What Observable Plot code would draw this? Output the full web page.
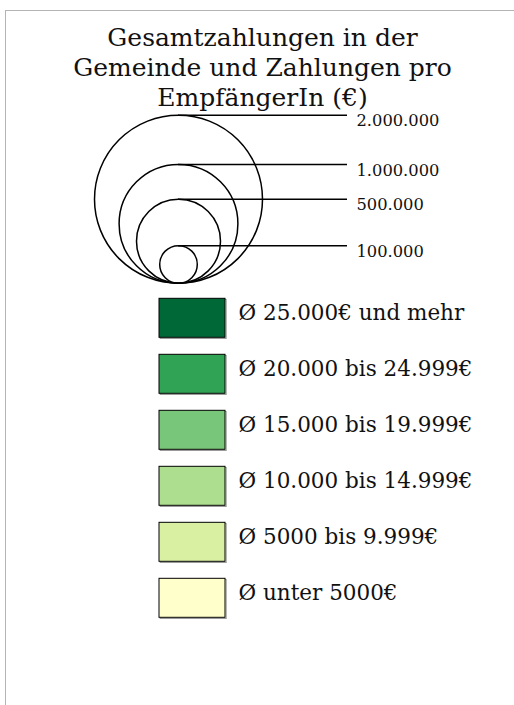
<!DOCTYPE html>
<html>
<head>
<meta charset="utf-8">
<script src="https://cdn.jsdelivr.net/npm/d3@7"></script>
<script src="https://cdn.jsdelivr.net/npm/@observablehq/plot@0.6"></script>
<style>
  html, body { margin: 0; padding: 0; background: #fff; }
  #chart { position: relative; width: 514px; height: 705px; overflow: hidden; }
  #frame { position: absolute; left: 5px; top: 10px; width: 700px; height: 900px;
           border-left: 1.5px solid #b4b4b4; border-top: 1.5px solid #b4b4b4; }
  #chart svg { position: absolute; left: 0; top: 0; }
</style>
</head>
<body>
<div id="chart"><div id="frame"></div></div>
<script>
// ---- data ----
const titleLines = ["Gesamtzahlungen in der", "Gemeinde und Zahlungen pro", "EmpfängerIn (€)"];
const sizeValues = [2000000, 1000000, 500000, 100000];
const sizeLabels = ["2.000.000", "1.000.000", "500.000", "100.000"];
const classLabels = [
  "Ø 25.000€ und mehr",
  "Ø 20.000 bis 24.999€",
  "Ø 15.000 bis 19.999€",
  "Ø 10.000 bis 14.999€",
  "Ø 5000 bis 9.999€",
  "Ø unter 5000€"
];
const classColors = ["#006837", "#31a354", "#78c679", "#addd8e", "#d9f0a3", "#ffffcc"];

// ---- layout ----
const W = 514, H = 705;
const FONT = "DejaVu Serif";
const cx = 178, bottom = 282.7, maxR = 84;
const lineEnd = 347, labelX = 356;
const rectX1 = 159, rectX2 = 225, textX = 238;

const rScale = Plot.scale({r: {type: "sqrt", domain: [0, 2000000], range: [0, maxR]}});
const band = Plot.scale({y: {type: "band", domain: classLabels, range: [298.3, 617.3], paddingInner: 0.3036, paddingOuter: 0}});
const circleTop = d => bottom - 2 * rScale.apply(d);

const plot = Plot.plot({
  width: W,
  height: H,
  margin: 0,
  style: {fontFamily: FONT, background: "transparent", overflow: "visible"},
  x: {type: "identity", axis: null},
  y: {type: "identity", axis: null},
  r: {type: "sqrt", domain: [0, 2000000], range: [0, maxR]},
  color: {type: "ordinal", domain: classLabels, range: classColors},
  marks: [
    Plot.text([titleLines.join("\n")], {
      x: 262, y: 105, text: d => d, lineAnchor: "bottom", lineHeight: 30 / 25,
      fontSize: 25, textAnchor: "middle", fill: "#111"
    }),
    Plot.dot(sizeValues, {
      x: () => cx, y: d => bottom - rScale.apply(d), r: d => d,
      fill: "none", stroke: "black", strokeWidth: 1.5
    }),
    Plot.ruleY(sizeValues, {
      y: circleTop, x1: cx, x2: lineEnd, stroke: "black", strokeWidth: 1.5
    }),
    Plot.text(sizeValues, {
      x: labelX, y: circleTop, dy: 6, text: (d, i) => sizeLabels[i],
      textAnchor: "start", fontSize: 16.3, fill: "#111"
    }),
    Plot.rect(classLabels, {
      x1: rectX1 + 1.2, x2: rectX2 + 1.2,
      y1: d => band.apply(d) + 1.2, y2: d => band.apply(d) + band.bandwidth + 1.2,
      fill: "none", stroke: "#9a9a9a", strokeWidth: 1
    }),
    Plot.rect(classLabels, {
      x1: rectX1, x2: rectX2,
      y1: d => band.apply(d), y2: d => band.apply(d) + band.bandwidth,
      fill: d => d, stroke: "black", strokeWidth: 1
    }),
    Plot.text(classLabels, {
      x: textX, y: d => band.apply(d) + band.bandwidth / 2, dy: -5,
      text: d => d, textAnchor: "start", fontSize: 21.5, fill: "#111"
    })
  ]
});
document.getElementById("chart").appendChild(plot);
</script>
</body>
</html>
